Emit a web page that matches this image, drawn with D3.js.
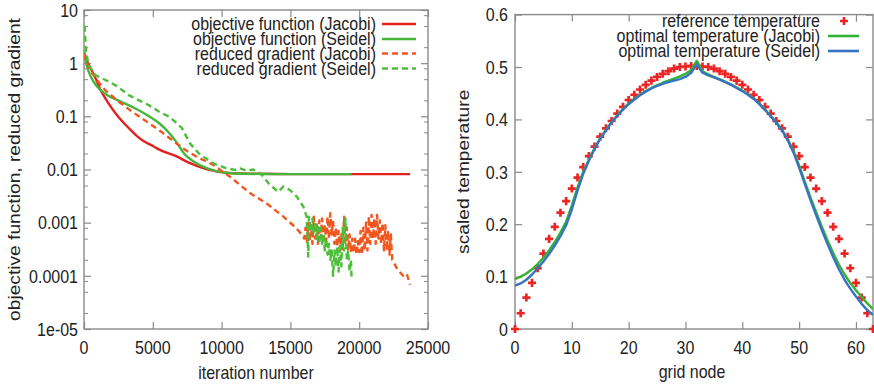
<!DOCTYPE html>
<html>
<head>
<meta charset="utf-8">
<script src="https://cdn.jsdelivr.net/npm/d3@7"></script>
<style>
  html, body { margin: 0; padding: 0; background: #fff; }
  svg { display: block; }
  text { font-family: "Liberation Sans", Arial, sans-serif; fill: #222; }
</style>
</head>
<body>
<svg id="chart" width="874" height="385"></svg>
<script>
// ---------------- Left panel data ----------------
const objJacobiIt  = [0, 250, 500, 727, 1000, 1210, 1500, 1940, 2400, 2910, 3400, 3870, 4350, 4850, 5300, 5810, 6300, 6780, 7250, 7750, 8200, 8720, 9200, 9690, 10300, 11000, 12500, 15000, 19000, 23700];
const objJacobiVal = [1.6, 1.05, 0.78, 0.6, 0.42, 0.31, 0.23, 0.152, 0.105, 0.074, 0.055, 0.042, 0.034, 0.029, 0.025, 0.0216, 0.0195, 0.0174, 0.015, 0.013, 0.0117, 0.0105, 0.0097, 0.0091, 0.0087, 0.0085, 0.0083, 0.0082, 0.0082, 0.0082];

const objSeidelIt  = [0, 200, 490, 970, 1700, 2670, 3630, 4600, 5300, 5800, 6300, 6780, 7270, 7990, 8960, 10170, 11500, 14000, 17000, 19450];
const objSeidelVal = [1.7, 0.9, 0.56, 0.36, 0.25, 0.19, 0.145, 0.105, 0.08, 0.062, 0.045, 0.031, 0.020, 0.014, 0.0105, 0.0088, 0.0083, 0.0082, 0.0082, 0.0082];

const gradJacobiIt  = [0, 97, 450, 940, 1540, 2510, 3480, 4700, 5670, 6640, 7400, 8190, 9400, 10610, 12060, 13280, 14490, 15400, 15940,
  16000, 16100, 16200, 16300, 16400, 16500, 16600, 16700, 16800, 16900, 17000, 17100, 17200, 17300, 17400, 17500, 17600, 17700, 17800, 17900,
  18000, 18100, 18200, 18300, 18400, 18500, 18600, 18700, 18800, 18900, 19000, 19100, 19200, 19300, 19400, 19500, 19600, 19700, 19800, 19900,
  20000, 20100, 20200, 20300, 20400, 20500, 20600, 20700, 20800, 20900, 21000, 21100, 21200, 21300, 21400, 21500, 21600, 21700, 21800, 21900,
  22000, 22100, 22200, 22300, 22400, 22500, 22800, 23200, 23450, 23700];
const gradJacobiVal = [1.5, 1.23, 0.74, 0.48, 0.31, 0.19, 0.123, 0.075, 0.05, 0.032, 0.023, 0.0174, 0.0122, 0.0073, 0.0036, 0.0023, 0.0013, 0.0008, 0.00055,
  0.0005, 0.0008, 0.0004, 0.001, 0.00045, 0.0009, 0.0004, 0.0013, 0.0005, 0.001, 0.0004, 0.0011, 0.0005, 0.0012, 0.0004, 0.0009, 0.00045, 0.0013, 0.0005, 0.0015,
  0.0006, 0.0011, 0.0004, 0.0008, 0.00035, 0.0007, 0.0003, 0.0006, 0.0003, 0.0013, 0.0004, 0.0008, 0.0003, 0.0006, 0.00028, 0.0005, 0.00027, 0.0005, 0.00025, 0.00045,
  0.00028, 0.0007, 0.00025, 0.0008, 0.0003, 0.001, 0.0003, 0.0013, 0.0004, 0.0014, 0.0005, 0.0012, 0.0004, 0.0014, 0.0005, 0.0011, 0.0004, 0.001, 0.0003, 0.0009,
  0.0003, 0.0007, 0.00025, 0.0006, 0.0002, 0.00018, 0.00013, 0.0001, 0.00011, 0.000068];

const gradSeidelIt  = [0, 48, 145, 340, 820, 1790, 2400, 3250, 4000, 4700, 5500, 6150, 6600, 7120, 7700, 8430, 9400, 10370, 11000, 11340, 11800, 12300, 12800, 13030, 13520, 14120, 14490, 14970, 15460, 15940, 16180,
  16300, 16350, 16500, 16600, 16700, 16800, 16900, 17000, 17100, 17200, 17300, 17400, 17500, 17600, 17700, 17800, 17900, 18000, 18100, 18200, 18300, 18400, 18500, 18600, 18700, 18800, 18900, 19000, 19100, 19200, 19300, 19400, 19450];
const gradSeidelVal = [5.0, 4.85, 1.64, 0.92, 0.6, 0.45, 0.37, 0.25, 0.2, 0.163, 0.12, 0.1, 0.08, 0.06, 0.031, 0.019, 0.013, 0.0105, 0.0098, 0.0105, 0.0095, 0.01, 0.0085, 0.0073, 0.0051, 0.0038, 0.0048, 0.0041, 0.0031, 0.002, 0.0013,
  0.00023, 0.0013, 0.0007, 0.0012, 0.0006, 0.001, 0.0005, 0.0009, 0.0004, 0.0008, 0.0004, 0.0006, 0.0003, 0.0005, 0.00025, 0.0004, 0.0002, 0.0003, 0.0001, 0.0003, 0.00015, 0.00035, 0.00012, 0.0004, 0.00015, 0.0008, 0.0003, 0.0012, 0.0002, 0.0003, 0.00012, 0.0002, 0.000085];

const leftXTicks = [0, 5000, 10000, 15000, 20000, 25000];
const leftXTickLabels = ["0", "5000", "10000", "15000", "20000", "25000"];
const leftYTicks = [10, 1, 0.1, 0.01, 0.001, 0.0001, 0.00001];
const leftYTickLabels = ["10", "1", "0.1", "0.01", "0.001", "0.0001", "1e-05"];
const leftMinorMultipliers = [2, 5, 8];
const leftLegend = ["objective function (Jacobi)", "objective function (Seidel)", "reduced gradient (Jacobi)", "reduced gradient (Seidel)"];

// ---------------- Right panel data ----------------
const gridNodes = [0,1,2,3,4,5,6,7,8,9,10,11,12,13,14,15,16,17,18,19,20,21,22,23,24,25,26,27,28,29,30,31,32,33,34,35,36,37,38,39,40,41,42,43,44,45,46,47,48,49,50,51,52,53,54,55,56,57,58,59,60,61,62,63];
const refTemp = [0, 0.030, 0.060, 0.088, 0.116, 0.144, 0.172, 0.195, 0.222, 0.244, 0.268, 0.289, 0.309, 0.330, 0.348, 0.367, 0.383, 0.397, 0.411, 0.424, 0.437, 0.447, 0.457, 0.466, 0.474, 0.481, 0.487, 0.492, 0.497, 0.500, 0.501, 0.502,
  0.502, 0.501, 0.500, 0.497, 0.492, 0.487, 0.481, 0.474, 0.466, 0.457, 0.447, 0.437, 0.424, 0.411, 0.397, 0.383, 0.367, 0.348, 0.330, 0.309, 0.289, 0.268, 0.244, 0.222, 0.195, 0.172, 0.144, 0.116, 0.088, 0.060, 0.030, 0];
const optJacobi = [0.095, 0.100, 0.106, 0.114, 0.124, 0.136, 0.150, 0.166, 0.184, 0.205, 0.236, 0.270, 0.300, 0.323, 0.345, 0.364, 0.380, 0.395, 0.408, 0.420, 0.430, 0.439, 0.447, 0.454, 0.460, 0.465, 0.470, 0.474, 0.478, 0.482, 0.487, 0.494,
  0.512, 0.492, 0.486, 0.481, 0.477, 0.472, 0.467, 0.461, 0.455, 0.448, 0.440, 0.430, 0.419, 0.407, 0.394, 0.380, 0.362, 0.340, 0.312, 0.281, 0.251, 0.223, 0.195, 0.169, 0.145, 0.123, 0.104, 0.088, 0.074, 0.061, 0.049, 0.038];
const optSeidel = [0.083, 0.087, 0.094, 0.104, 0.116, 0.129, 0.143, 0.159, 0.177, 0.198, 0.228, 0.264, 0.296, 0.321, 0.344, 0.363, 0.379, 0.394, 0.407, 0.419, 0.429, 0.438, 0.446, 0.453, 0.459, 0.464, 0.468, 0.471, 0.474, 0.477, 0.481, 0.489,
  0.505, 0.489, 0.484, 0.480, 0.476, 0.471, 0.466, 0.460, 0.454, 0.447, 0.439, 0.429, 0.418, 0.406, 0.393, 0.379, 0.360, 0.337, 0.308, 0.277, 0.246, 0.217, 0.189, 0.162, 0.137, 0.114, 0.094, 0.077, 0.062, 0.048, 0.036, 0.027];

const rightXTicks = [0, 10, 20, 30, 40, 50, 60];
const rightXTickLabels = ["0", "10", "20", "30", "40", "50", "60"];
const rightYTicks = [0, 0.1, 0.2, 0.3, 0.4, 0.5, 0.6];
const rightYTickLabels = ["0", "0.1", "0.2", "0.3", "0.4", "0.5", "0.6"];
const rightLegend = ["reference temperature", "optimal temperature (Jacobi)", "optimal temperature (Seidel)"];

// ---------------- Styles ----------------
const C_RED = "#e3221f", C_GREEN = "#45b63c", C_ORANGE = "#f2561f", C_GREEN_D = "#4cbf3a";
const C_TGREEN = "#34b234", C_BLUE = "#3674c2", C_CROSS = "#ec2424";
const FRAME = "#8a8a8a";
const FS = 16, STRETCH = 1.2, LEG_STRETCH = 1.1;

const svg = d3.select("#chart");

function txt(g, x, y, s, anchor, rot, stretch) {
  const k = stretch || STRETCH;
  return g.append("text")
    .attr("transform", `translate(${x},${y})` + (rot ? ` rotate(${rot}) scale(${k},1)` : ` scale(1,${k})`))
    .attr("text-anchor", anchor || "middle")
    .attr("dy", "0.35em")
    .style("font-size", FS + "px")
    .text(s);
}

function frameAxes(g, x, y, xTicks, yTicks, w, h) {
  const tl = 7;
  const styleAxis = sel => {
    sel.select(".domain").remove();
    sel.selectAll(".tick line").attr("stroke", FRAME).attr("stroke-width", 1.2);
  };
  g.append("g").attr("transform", `translate(0,${h})`)
    .call(d3.axisBottom(x).tickValues(xTicks).tickSizeInner(-tl).tickSizeOuter(0).tickFormat(""))
    .call(styleAxis);
  g.append("g")
    .call(d3.axisTop(x).tickValues(xTicks).tickSizeInner(-tl).tickSizeOuter(0).tickFormat(""))
    .call(styleAxis);
  g.append("g")
    .call(d3.axisLeft(y).tickValues(yTicks).tickSizeInner(-tl).tickSizeOuter(0).tickFormat(""))
    .call(styleAxis);
  g.append("g").attr("transform", `translate(${w},0)`)
    .call(d3.axisRight(y).tickValues(yTicks).tickSizeInner(-tl).tickSizeOuter(0).tickFormat(""))
    .call(styleAxis);
  g.append("rect").attr("x", 0).attr("y", 0).attr("width", w).attr("height", h)
    .attr("fill", "none").attr("stroke", FRAME).attr("stroke-width", 1.4);
}

// ================= LEFT PANEL =================
{
  const L = 84, T = 10, W = 344, H = 319;
  const g = svg.append("g").attr("transform", `translate(${L},${T})`);
  const x = d3.scaleLinear().domain([0, 25000]).range([0, W]);
  const y = d3.scaleLog().domain([1e-5, 10]).range([H, 0]);

  const minor = [];
  [1e-5, 1e-4, 1e-3, 1e-2, 1e-1, 1].forEach(d => leftMinorMultipliers.forEach(m => minor.push(d * m)));
  const styleMinor = sel => { sel.select(".domain").remove(); sel.selectAll(".tick line").attr("stroke", FRAME).attr("stroke-width", 1); };
  g.append("g").call(d3.axisLeft(y).tickValues(minor).tickSizeInner(-4).tickSizeOuter(0).tickFormat("")).call(styleMinor);
  g.append("g").attr("transform", `translate(${W},0)`).call(d3.axisRight(y).tickValues(minor).tickSizeInner(-4).tickSizeOuter(0).tickFormat("")).call(styleMinor);

  frameAxes(g, x, y, leftXTicks, leftYTicks, W, H);

  g.append("clipPath").attr("id", "clipL").append("rect").attr("width", W).attr("height", H);
  const plot = g.append("g").attr("clip-path", "url(#clipL)");

  const series = [
    { it: objJacobiIt, v: objJacobiVal, c: C_RED, dash: null, curve: d3.curveMonotoneX },
    { it: objSeidelIt, v: objSeidelVal, c: C_GREEN, dash: null, curve: d3.curveMonotoneX },
    { it: gradJacobiIt, v: gradJacobiVal, c: C_ORANGE, dash: "6,4", curve: d3.curveLinear },
    { it: gradSeidelIt, v: gradSeidelVal, c: C_GREEN_D, dash: "6,4", curve: d3.curveLinear }
  ];
  series.forEach(s => {
    const line = d3.line().x(i => x(s.it[i])).y(i => y(s.v[i])).curve(s.curve);
    plot.append("path").attr("d", line(d3.range(s.it.length)))
      .attr("fill", "none").attr("stroke", s.c).attr("stroke-width", 2.4)
      .attr("stroke-dasharray", s.dash).attr("stroke-linejoin", "round");
  });

  leftYTicks.forEach((v, i) => txt(g, -6, y(v), leftYTickLabels[i], "end"));
  leftXTicks.forEach((v, i) => txt(g, x(v), 337, leftXTickLabels[i], "middle"));
  txt(g, x(12500), 362, "iteration number", "middle");
  txt(svg, 14, T + H / 2, "objective function, reduced gradient", "middle", -90);

  const legY = [24, 39, 53.5, 68.5];
  leftLegend.forEach((s, i) => {
    txt(svg, 376, legY[i], s, "end", 0, LEG_STRETCH);
    svg.append("line").attr("x1", 382).attr("x2", 416).attr("y1", legY[i]).attr("y2", legY[i])
      .attr("stroke", series[i].c).attr("stroke-width", 2.6).attr("stroke-dasharray", series[i].dash);
  });
}

// ================= RIGHT PANEL =================
{
  const L = 515, T = 14.6, W = 358, H = 329 - 14.6;
  const g = svg.append("g").attr("transform", `translate(${L},${T})`);
  const x = d3.scaleLinear().domain([0, 63]).range([0, W]);
  const y = d3.scaleLinear().domain([0, 0.6]).range([H, 0]);

  frameAxes(g, x, y, rightXTicks, rightYTicks, W, H);

  const cross = d3.symbol().type(d3.symbolCross).size(36);
  g.append("g").selectAll("path").data(gridNodes).join("path")
    .attr("transform", (n, i) => `translate(${x(n)},${y(refTemp[i])})`)
    .attr("d", cross).attr("fill", C_CROSS);

  g.append("clipPath").attr("id", "clipR").append("rect").attr("width", W).attr("height", H);
  const plot = g.append("g").attr("clip-path", "url(#clipR)");
  [[optJacobi, C_TGREEN], [optSeidel, C_BLUE]].forEach(([vals, c]) => {
    const line = d3.line().x((n) => x(n)).y((n, i) => y(vals[i]));
    plot.append("path").attr("d", line(gridNodes)).attr("fill", "none")
      .attr("stroke", c).attr("stroke-width", 2.4).attr("stroke-linejoin", "round");
  });

  rightYTicks.forEach((v, i) => txt(g, -7, y(v), rightYTickLabels[i], "end"));
  rightXTicks.forEach((v, i) => txt(g, x(v), 347 - T, rightXTickLabels[i], "middle"));
  txt(svg, 692, 371, "grid node", "middle");
  txt(svg, 463, T + H / 2, "scaled temperature", "middle", -90);

  const legY = [21, 36, 51];
  rightLegend.forEach((s, i) => txt(svg, 820, legY[i], s, "end", 0, LEG_STRETCH));
  svg.append("path").attr("transform", `translate(844,${legY[0]})`).attr("d", cross).attr("fill", C_CROSS);
  svg.append("line").attr("x1", 828).attr("x2", 859).attr("y1", legY[1]).attr("y2", legY[1]).attr("stroke", C_TGREEN).attr("stroke-width", 2.6);
  svg.append("line").attr("x1", 828).attr("x2", 859).attr("y1", legY[2]).attr("y2", legY[2]).attr("stroke", C_BLUE).attr("stroke-width", 2.6);
}
</script>
</body>
</html>
